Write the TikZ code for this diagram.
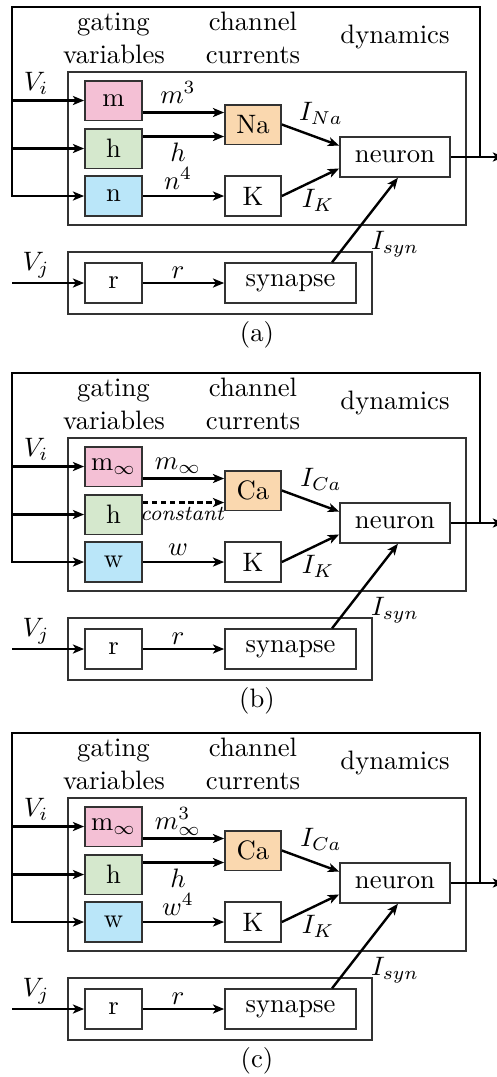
\documentclass[tikz,border=0pt]{standalone}
\usetikzlibrary{arrows.meta}

\definecolor{gpink}{RGB}{244,192,213}
\definecolor{ggreen}{RGB}{213,232,205}
\definecolor{gblue}{RGB}{186,230,249}
\definecolor{gorange}{RGB}{250,216,175}
\definecolor{edge}{RGB}{50,50,50}

\tikzset{
  wire/.style={line width=0.9pt, line join=miter},
  arrow/.style={wire, -{Stealth[length=4.2pt,width=3.4pt,inset=1.1pt]}},
  trunk/.style={arrow, line width=1.1pt},
  unit/.style={draw=edge, line width=0.65pt, inner sep=0pt, minimum height=14.9pt},
  gatebox/.style={unit, minimum width=21.4pt},
  chanbox/.style={unit, minimum width=21pt},
  group/.style={draw=edge, line width=0.45pt, inner sep=0pt},
  lab/.style={anchor=base, inner sep=0pt},
}

% One panel of the model: #1 caption, #2 first gate, #3 third gate,
% #4 channel, #5 its current, #6 first gate output, #7 third gate output
\newcommand\neuronpanel[7]{%
  % grouping frames
  \node[group, minimum width=149.25pt, minimum height=57.4pt] (cellgroup) at (267,148.5) {};
  \node[group, minimum width=114pt, minimum height=23.25pt] (syngroup) at (220,283) {};
  % column headings
  \node[lab] (hg1) at (113.5,30) {gating};
  \node[lab] (hg2) at (114,63) {variables};
  \node[lab] (hc1) at (253,30) {channel};
  \node[lab] (hc2) at (253,63) {currents};
  \node[lab] (hd)  at (395,43) {dynamics};
  % blocks
  \node[gatebox, fill=gpink]  (top) at (113.5,100.5) {#2};
  \node[gatebox, fill=ggreen] (mid) at (113.5,148.5) {h};
  \node[gatebox, fill=gblue]  (bot) at (113.5,196) {#3};
  \node[chanbox, fill=gorange] (ch) at (253,124.5) {#4};
  \node[chanbox] (K) at (253,196) {K};
  \node[unit, minimum width=41.25pt] (neuron) at (395,157) {neuron};
  \node[gatebox] (r) at (113.5,283) {r};
  \node[unit, minimum width=49.1pt] (syn) at (290.5,283) {synapse};
  % free ends of the wiring
  \coordinate (fb) at (480,157);
  \coordinate (tl) at (12,7);
  \coordinate (out) at (504,157);
  \coordinate (vj) at (12,283);
  % membrane potential feedback
  \draw[arrow] (neuron.east) -- (out);
  \draw[trunk] (fb) |- (tl) |- (bot.west);
  \draw[arrow] (top.west -| tl) -- (top.west);
  \draw[arrow] (mid.west -| tl) -- (mid.west);
  \draw[arrow] (vj) -- (r.west);
  % gates to channels
  \draw[arrow] ([yshift=-4.5pt]top.east) -- ([yshift=-4.5pt]top.east -| ch.west);
  \draw[arrow] (bot.east) -- (K.west);
  \draw[arrow] (r.east) -- (syn.west);
  % currents into the cell
  \draw[arrow] (ch.east) -- ([yshift=4.3pt]neuron.west);
  \draw[arrow] (K.east) -- ([yshift=-4.3pt]neuron.west);
  \draw[arrow] ([xshift=15.6pt]syn.north) -- ([xshift=1.1pt]neuron.south);
  % labels
  \node[lab] (vil) at (36,90) {$V_i$};
  \node[lab] (vjl) at (36,270) {$V_j$};
  \node[lab] (ich) at (321,120) {#5};
  \node[lab] (ik) at (318,207) {$I_K$};
  \node[lab] (isyn) at (395,249) {$I_{syn}$};
  \node[lab] (ltop) at (178,103) {#6};
  \node[lab] (lbot) at (178,189) {#7};
  \node[lab] (lr) at (178,278) {$r$};
  \node[lab] (cap) at (257,341) {#1};
}

\begin{document}
\begin{tikzpicture}[x=0.375pt,y=-0.375pt]
\path[use as bounding box, clip] (0,0) rectangle (497,1077);

\begin{scope}[name prefix=a-]
  \neuronpanel{(a)}{m}{n}{Na}{$I_{Na}$}{$m^3$}{$n^4$}
  \draw[arrow] ([yshift=4.5pt]mid.east) -- ([yshift=4.5pt]mid.east -| ch.west);
  \node[lab] (lmid) at (178,161) {$h$};
\end{scope}

\begin{scope}[shift={(0,366)}, name prefix=b-]
  \neuronpanel{(b)}{m$_\infty$}{w}{Ca}{$I_{Ca}$}{$m_\infty$}{$w$}
  \draw[arrow, dash pattern=on 2pt off 1.4pt] ([yshift=4.5pt]mid.east) -- ([yshift=4.5pt]mid.east -| ch.west);
  \node[lab, font=\footnotesize\itshape] (lmid) at (182,154) {constant};
\end{scope}

\begin{scope}[shift={(0,726)}, name prefix=c-]
  \neuronpanel{(c)}{m$_\infty$}{w}{Ca}{$I_{Ca}$}{$m_\infty^3$}{$w^4$}
  \draw[arrow] ([yshift=4.5pt]mid.east) -- ([yshift=4.5pt]mid.east -| ch.west);
  \node[lab] (lmid) at (178,161) {$h$};
\end{scope}
\end{tikzpicture}
\end{document}
